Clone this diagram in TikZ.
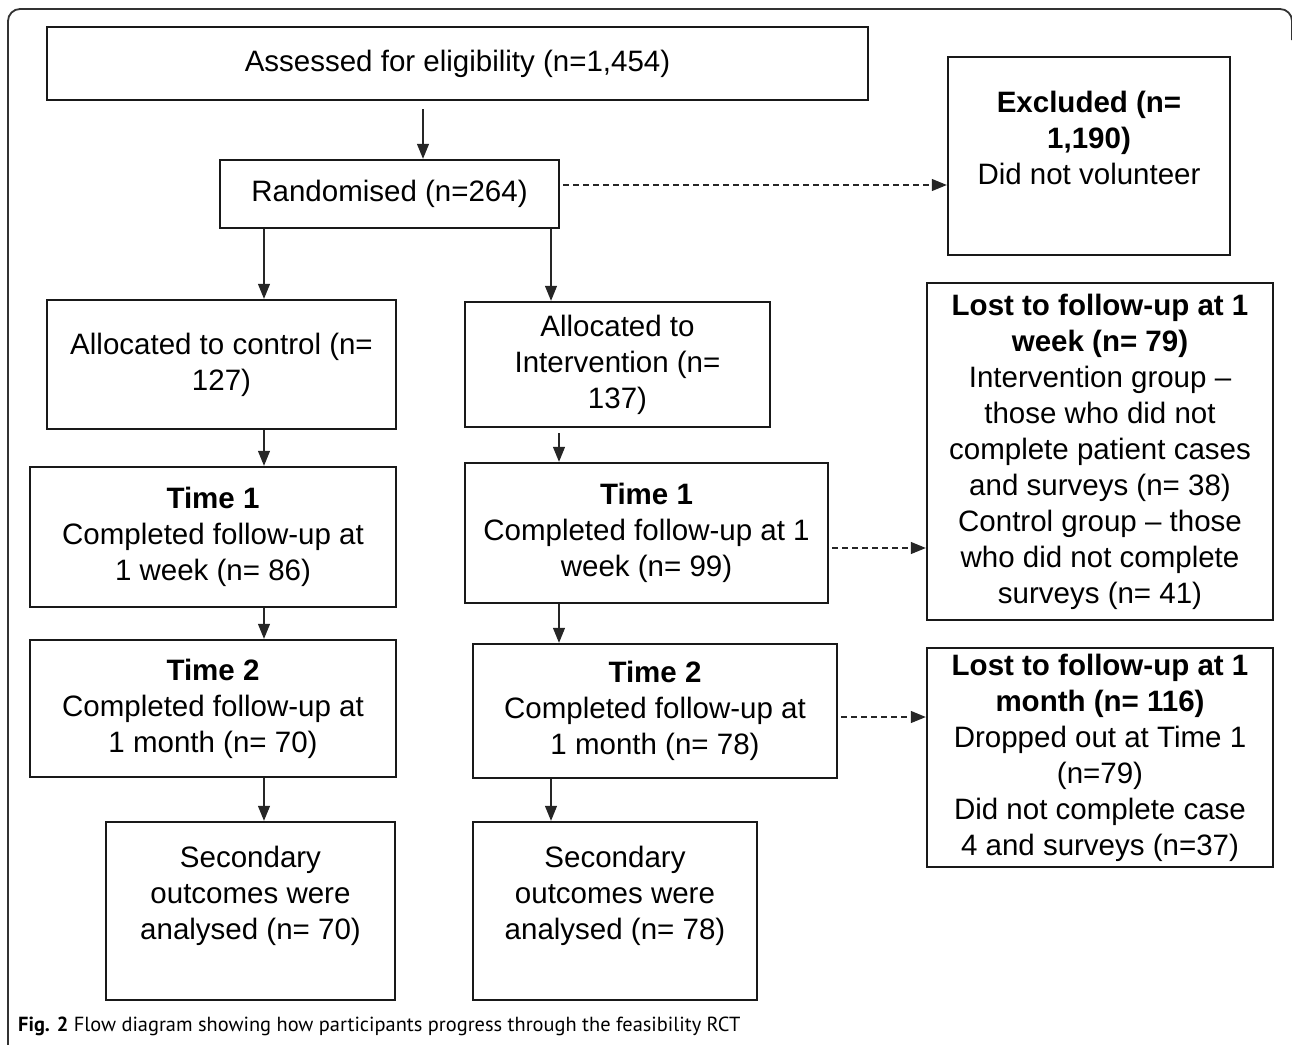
\documentclass[tikz,border=0pt]{standalone}
\usepackage{fontspec}
\setmainfont{Liberation Sans}
\newfontfamily\capfont{PT Sans}
\usetikzlibrary{arrows.meta}

\begin{document}
\begin{tikzpicture}[x=1pt,y=-1pt,
    box/.style={draw=black!90,line width=2.4pt,rectangle,align=center,inner sep=0pt,
      font=\fontsize{29.5}{36}\selectfont},
    arr/.style={-{Triangle[length=15pt,width=12pt]},line width=1.2pt,draw=black!85},
    dasharr/.style={arr,dash pattern=on 6pt off 4pt}]
  \useasboundingbox (0,0) rectangle (1292,1044);
  \draw[line width=1.8pt,black!80,rounded corners=12pt] (8,1050) -- (8,9) -- (1292,9) -- (1292,40);

  \node[box,minimum width=821pt,minimum height=73pt] (Assess) at (457.5,63.5) {Assessed for eligibility (n=1,454)};
  \node[box,minimum width=339pt,minimum height=68pt] (Rand) at (389.5,194) {Randomised (n=264)};
  \node[box,minimum width=282pt,minimum height=198pt] (Excl) at (1089,156)
    {\textbf{Excluded (n=}\\\textbf{1,190)}\\Did not volunteer\\};

  \node[box,minimum width=349pt,minimum height=129pt] (Ctrl) at (221.5,364.5) {Allocated to control (n=\\127)};
  \node[box,minimum width=305pt,minimum height=125pt] (Intv) at (617.5,364.5) {Allocated to\\Intervention (n=\\137)};

  \node[box,minimum width=366pt,minimum height=140pt] (CtrlT1) at (213,537)
    {\textbf{Time 1}\\Completed follow-up at\\1 week (n= 86)};
  \node[box,minimum width=363pt,minimum height=140pt] (IntvT1) at (646.5,533)
    {\textbf{Time 1}\\Completed follow-up at 1\\week (n= 99)};
  \node[box,minimum width=346pt,minimum height=337pt] (LostWeek) at (1100,451.5)
    {\textbf{Lost to follow-up at 1}\\\textbf{week (n= 79)}\\Intervention group –\\those who did not\\complete patient cases\\and surveys (n= 38)\\Control group – those\\who did not complete\\surveys (n= 41)};

  \node[box,minimum width=366pt,minimum height=137pt] (CtrlT2) at (213,708.5)
    {\textbf{Time 2}\\Completed follow-up at\\1 month (n= 70)};
  \node[box,minimum width=364pt,minimum height=134pt] (IntvT2) at (655,711)
    {\textbf{Time 2}\\Completed follow-up at\\1 month (n= 78)};
  \node[box,minimum width=346pt,minimum height=219pt] (LostMonth) at (1100,757.5)
    {\textbf{Lost to follow-up at 1}\\\textbf{month (n= 116)}\\Dropped out at Time 1\\(n=79)\\Did not complete case\\4 and surveys (n=37)};

  \node[box,minimum width=289pt,minimum height=178pt] (CtrlSec) at (250.5,911)
    {Secondary\\outcomes were\\analysed (n= 70)\\};
  \node[box,minimum width=284pt,minimum height=178pt] (IntvSec) at (615,911)
    {Secondary\\outcomes were\\analysed (n= 78)\\};

  \node[anchor=base west,inner sep=0pt,font=\capfont\fontsize{20.4}{24}\selectfont] (Caption) at (18,1031)
    {\textbf{Fig. 2} Flow diagram showing how participants progress through the feasibility RCT};

  % columns of the vertical arrows
  \coordinate (tcol) at (423,0);
  \coordinate (lcol) at (264,0);
  \coordinate (mcol) at (551,0);
  \coordinate (rcol) at (559,0);

  \draw[arr,shorten <=8pt] (Assess.south -| tcol) -- (Rand.north -| tcol);
  \draw[arr] (Rand.south -| lcol) -- (Ctrl.north -| lcol);
  \draw[arr] (Rand.south -| mcol) -- (Intv.north -| mcol);
  \draw[arr] (Ctrl.south -| lcol) -- (CtrlT1.north -| lcol);
  \draw[arr,shorten <=5pt] (Intv.south -| rcol) -- (IntvT1.north -| rcol);
  \draw[arr] (CtrlT1.south -| lcol) -- (CtrlT2.north -| lcol);
  \draw[arr] (IntvT1.south -| rcol) -- (IntvT2.north -| rcol);
  \draw[arr] (CtrlT2.south -| lcol) -- (CtrlSec.north -| lcol);
  \draw[arr] (IntvT2.south -| mcol) -- (IntvSec.north -| mcol);

  % losses
  \coordinate (RandOut) at ([yshift=9pt]Rand.east);
  \coordinate (WeekOut) at ([yshift=-15pt]IntvT1.east);
  \coordinate (MonthOut) at ([yshift=-6pt]IntvT2.east);
  \draw[dasharr,shorten <=3pt] (RandOut) -- (RandOut -| Excl.west);
  \draw[dasharr,shorten <=3pt] (WeekOut) -- (WeekOut -| LostWeek.west);
  \draw[dasharr,shorten <=3pt] (MonthOut) -- (MonthOut -| LostMonth.west);
\end{tikzpicture}
\end{document}
